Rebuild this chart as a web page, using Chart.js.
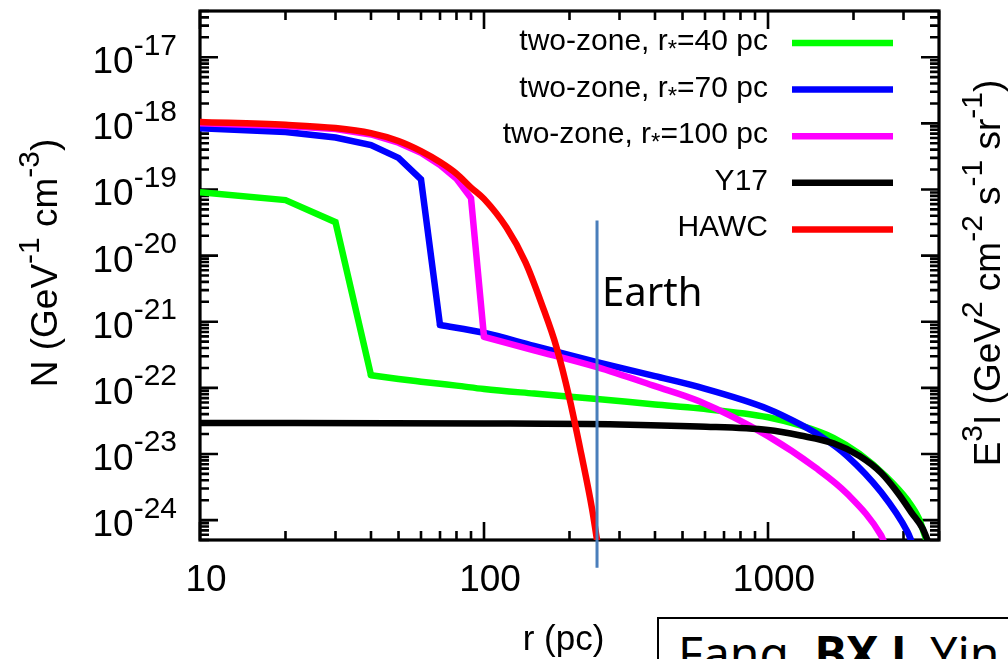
<!DOCTYPE html>
<html>
<head>
<meta charset="utf-8">
<script src="https://cdn.jsdelivr.net/npm/chart.js@4.4.1/dist/chart.umd.min.js"></script>
<style>
    html, body { margin: 0; padding: 0; background: #fff; overflow: hidden; }
    #wrap { position: relative; width: 1008px; height: 659px; }
    #cite {
        position: absolute; left: 657px; top: 617px; width: 420px; height: 90px;
        border: 2px solid #000; box-sizing: border-box; overflow: hidden; background: #fff;
    }
    #cite .txt {
        position: absolute; left: 19px; top: 10px; white-space: nowrap; color: #000;
        font: 48px/1 "Noto Sans", sans-serif;
    }
</style>
</head>
<body>
<div id="wrap">
    <canvas id="chart" width="1008" height="659"></canvas>
    <div id="cite"><span class="txt">Fang, <b>BX L</b> Yin</span></div>
</div>
<script>
// r (pc) vs N (GeV^-1 cm^-3)
const rGreen = [10, 20, 30, 40, 50, 60, 70, 80, 100, 150, 250, 400, 570, 1000, 1300, 1700, 2100, 2600, 3100, 3400, 3600, 3650];
const nGreen = [9.1e-20, 6.9e-20, 3.2e-20, 1.55e-22, 1.36e-22, 1.24e-22, 1.15e-22, 1.08e-22, 9.6e-23, 8.2e-23, 6.8e-23, 5.6e-23, 4.9e-23, 3.6e-23, 2.7e-23, 1.75e-23, 1.0e-23, 4.6e-24, 2.0e-24, 1.05e-24, 5.2e-25, 4.5e-25];

const rBlue = [10, 20, 30, 40, 50, 60, 70, 100, 150, 250, 400, 570, 1000, 1300, 1550, 1900, 2500, 3100, 3200];
const nBlue = [8.4e-19, 7.4e-19, 6.1e-19, 4.7e-19, 3.0e-19, 1.42e-19, 8.9e-22, 6.8e-22, 4.3e-22, 2.45e-22, 1.5e-22, 1.03e-22, 4.8e-23, 2.8e-23, 1.8e-23, 9.3e-24, 2.65e-24, 6.6e-25, 4.8e-25];

const rMagenta = [10, 20, 30, 40, 50, 60, 70, 80, 90, 100, 150, 250, 400, 570, 1000, 1470, 1900, 2500, 2550];
const nMagenta = [1.0e-18, 9.1e-19, 8.2e-19, 6.8e-19, 5.1e-19, 3.6e-19, 2.35e-19, 1.45e-19, 7.4e-20, 5.9e-22, 3.7e-22, 2.05e-22, 1.06e-22, 6.3e-23, 1.86e-23, 6.2e-24, 2.5e-24, 5.9e-25, 4.9e-25];

const rBlack = [10, 100, 300, 570, 1000, 1300, 1700, 2100, 2500, 2900, 3200, 3500, 3700];
const nBlack = [2.95e-23, 2.9e-23, 2.8e-23, 2.6e-23, 2.3e-23, 1.9e-23, 1.45e-23, 9.3e-24, 5.2e-24, 2.4e-24, 1.3e-24, 7.5e-25, 4.2e-25];

const rRed = [10, 20, 30, 40, 50, 60, 70, 80, 90, 100, 120, 140, 160, 180, 200, 220, 240, 250];
const nRed = [1.05e-18, 9.5e-19, 8.5e-19, 7.1e-19, 5.4e-19, 3.8e-19, 2.6e-19, 1.73e-19, 1.07e-19, 7.2e-20, 2.65e-20, 7.9e-21, 1.8e-21, 4.1e-22, 6.9e-23, 1.0e-23, 1.5e-24, 5.0e-25];

// where the two-zone curves break from the inner zone to the outer zone (pc)
const kneeGreen = 40, kneeBlue = 70, kneeMagenta = 100;

// Earth marker at 250 pc
const earthR = 250;
const earthSpan = [3.4e-20, 1.9e-25];
const earthLabelN = 1.7e-21;

const xRange = [10, 4000];
const yRange = [5e-25, 5e-17];
const xTickValues = [10, 100, 1000];
const xTickLabels = ["10", "100", "1000"];
const yTickExps = [-17, -18, -19, -20, -21, -22, -23, -24];

const legendLabels = ["two-zone, r_{*}=40 pc", "two-zone, r_{*}=70 pc", "two-zone, r_{*}=100 pc", "Y17", "HAWC"];
const legendColors = ["#00ff00", "#0000ff", "#ff00ff", "#000000", "#ff0000"];
const yTitle = "N (GeV^{-1} cm^{-3})";
const y2Title = "E^{3}I (GeV^{2} cm^{-2} s^{-1} sr^{-1})";
const xTitle = "r (pc)";

const FONT = '"Liberation Sans", Arial, sans-serif';

const toPts = (xs, ys) => xs.map((v, i) => ({ x: v, y: ys[i] }));

// split "a^{b}c_{d}" into runs
function parseRich(str) {
    const parts = [];
    const re = /([\^_])\{([^}]*)\}/g;
    let last = 0, m;
    while ((m = re.exec(str)) !== null) {
        if (m.index > last) parts.push({ t: str.slice(last, m.index) });
        parts.push({ t: m[2], sup: m[1] === "^", sub: m[1] === "_" });
        last = re.lastIndex;
    }
    if (last < str.length) parts.push({ t: str.slice(last) });
    return parts;
}

function partStyle(p, size) {
    if (p.sup) return { fs: size * 0.81, dy: -size * 0.5 };
    if (p.sub) return { fs: size * 0.8, dy: size * 0.24 };
    return { fs: size, dy: 0 };
}

function richWidth(ctx, parts, size) {
    let w = 0;
    parts.forEach(p => {
        ctx.font = `${partStyle(p, size).fs}px ${FONT}`;
        w += ctx.measureText(p.t).width;
    });
    return w;
}

function drawRich(ctx, parts, x, y, size) {
    let cx = x;
    ctx.textAlign = "left";
    ctx.textBaseline = "alphabetic";
    parts.forEach(p => {
        const st = partStyle(p, size);
        ctx.font = `${st.fs}px ${FONT}`;
        ctx.fillText(p.t, cx, y + st.dy);
        cx += ctx.measureText(p.t).width;
    });
}

// frame + inward ticks on all four sides, gnuplot style
const framePlugin = {
    id: "frame",
    beforeDatasetsDraw(chart) {
        const { ctx, chartArea: a, scales: { x, y } } = chart;
        ctx.save();
        ctx.strokeStyle = "#000";
        ctx.lineWidth = 2.6;
        ctx.beginPath();
        for (let e = 1; e <= 3; e++) {
            for (let m = 1; m <= 9; m++) {
                const v = m * Math.pow(10, e);
                if (v < xRange[0] * 0.999 || v > xRange[1]) continue;
                const px = x.getPixelForValue(v);
                const len = m === 1 ? 18 : 9;
                ctx.moveTo(px, a.bottom); ctx.lineTo(px, a.bottom - len);
                ctx.moveTo(px, a.top); ctx.lineTo(px, a.top + len);
            }
        }
        for (let e = -25; e <= -17; e++) {
            for (let m = 1; m <= 9; m++) {
                const v = m * Math.pow(10, e);
                if (v < yRange[0] * 0.999 || v > yRange[1] * 1.001) continue;
                const py = y.getPixelForValue(v);
                const len = m === 1 ? 18 : 9;
                ctx.moveTo(a.left, py); ctx.lineTo(a.left + len, py);
                ctx.moveTo(a.right, py); ctx.lineTo(a.right - len, py);
            }
        }
        ctx.stroke();
        ctx.lineWidth = 3.2;
        ctx.strokeRect(a.left, a.top, a.right - a.left, a.bottom - a.top);
        ctx.restore();
    },
    afterDraw(chart) {
        const { ctx, chartArea: a, scales: { x, y } } = chart;
        ctx.save();
        ctx.fillStyle = "#000";

        // y tick labels 10^-n
        yTickExps.forEach(e => {
            const py = y.getPixelForValue(Math.pow(10, e));
            const parts = [{ t: "10" }, { t: String(e), sup: true }];
            const w = richWidth(ctx, parts, 37);
            drawRich(ctx, parts, a.left - 23 - w, py + 16, 37);
        });

        // x tick labels
        ctx.font = `37px ${FONT}`;
        ctx.textAlign = "center";
        xTickValues.forEach((v, i) => {
            ctx.fillText(xTickLabels[i], x.getPixelForValue(v) + 6, a.bottom + 51);
        });

        // axis titles
        ctx.font = `35px ${FONT}`;
        ctx.fillText(xTitle, (a.left + a.right) / 2 - 6, a.bottom + 110);

        const yParts = parseRich(yTitle);
        ctx.save();
        ctx.translate(57, 263);
        ctx.rotate(-Math.PI / 2);
        drawRich(ctx, yParts, -richWidth(ctx, yParts, 37) / 2, 0, 37);
        ctx.restore();

        const y2Parts = parseRich(y2Title);
        ctx.save();
        ctx.translate(1000, 273);
        ctx.rotate(-Math.PI / 2);
        drawRich(ctx, y2Parts, -richWidth(ctx, y2Parts, 37) / 2, 0, 37);
        ctx.restore();

        // legend: text right-aligned, line sample on the right
        legendLabels.forEach((lab, i) => {
            const base = a.top + 39 + i * 46.6;
            const parts = parseRich(lab);
            const w = richWidth(ctx, parts, 30);
            drawRich(ctx, parts, a.right - 171 - w, base, 30);
            ctx.strokeStyle = legendColors[i];
            ctx.lineWidth = 6.5;
            ctx.beginPath();
            ctx.moveTo(a.right - 147, base - 7);
            ctx.lineTo(a.right - 46, base - 7);
            ctx.stroke();
        });

        // Earth label
        ctx.fillStyle = "#000";
        ctx.font = '40px "Noto Sans", sans-serif';
        ctx.textAlign = "left";
        ctx.fillText("Earth", x.getPixelForValue(earthR) + 5, y.getPixelForValue(earthLabelN));
        ctx.restore();
    }
};

const lineDs = (label, pts, color, smooth) => ({
    label,
    data: pts,
    borderColor: color,
    borderWidth: 6.5,
    borderJoinStyle: "miter",
    borderCapStyle: smooth ? "round" : "butt",
    pointRadius: 0,
    tension: 0,
    cubicInterpolationMode: smooth ? "monotone" : "default",
    fill: false,
    clip: 0
});

// coarse polyline up to the knee, smooth outer-zone tail after it
function twoZone(label, xs, ys, knee, color) {
    const k = xs.indexOf(knee);
    return [
        lineDs(label, toPts(xs.slice(0, k + 1), ys.slice(0, k + 1)), color, false),
        lineDs(label, toPts(xs.slice(k), ys.slice(k)), color, true)
    ];
}

new Chart(document.getElementById("chart"), {
    type: "line",
    data: {
        // index 0 is painted last, so it sits on top
        datasets: [
            {
                label: "Earth",
                data: [{ x: earthR, y: earthSpan[0] }, { x: earthR, y: earthSpan[1] }],
                borderColor: "#4a7ebb",
                borderWidth: 3,
                pointRadius: 0,
                fill: false,
                clip: false
            },
            lineDs("HAWC", toPts(rRed, nRed), "#ff0000", true),
            lineDs("Y17", toPts(rBlack, nBlack), "#000000", true),
            ...twoZone("two-zone, r*=100 pc", rMagenta, nMagenta, kneeMagenta, "#ff00ff"),
            ...twoZone("two-zone, r*=70 pc", rBlue, nBlue, kneeBlue, "#0000ff"),
            ...twoZone("two-zone, r*=40 pc", rGreen, nGreen, kneeGreen, "#00ff00")
        ]
    },
    options: {
        responsive: false,
        animation: false,
        layout: { padding: { left: 200, right: 69, top: 11, bottom: 119 } },
        plugins: { legend: { display: false }, tooltip: { enabled: false } },
        scales: {
            x: { type: "logarithmic", min: xRange[0], max: xRange[1], display: false },
            y: { type: "logarithmic", min: yRange[0], max: yRange[1], display: false }
        }
    },
    plugins: [framePlugin]
});
</script>
</body>
</html>
